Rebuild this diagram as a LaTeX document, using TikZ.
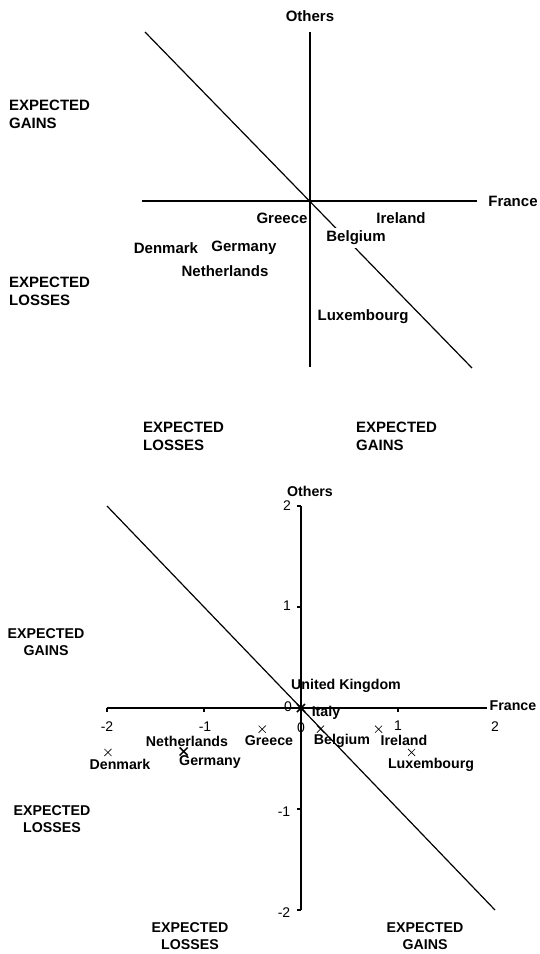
\documentclass[tikz,border=0pt]{standalone}
\usepackage{fontspec}
\setmainfont{Liberation Sans}
\usetikzlibrary{shapes.misc}
\begin{document}
\begin{tikzpicture}[x=1pt,y=-1pt,
  lbl/.style={font=\fontsize{15}{18}\selectfont\bfseries, inner sep=0pt},
  lbls/.style={font=\fontsize{14.2}{17.5}\selectfont\bfseries, inner sep=0pt},
  num/.style={font=\fontsize{14}{16}\selectfont, inner sep=0pt},
  axisline/.style={line width=1.4pt},
  diagline/.style={line width=1.2pt},
  mk/.style={cross out, draw, minimum size=6.5pt, inner sep=0pt, line width=0.6pt},
  mkb/.style={mk, line width=1.5pt},
]
\useasboundingbox (0,0) rectangle (540,954);
\fill[white] (0,0) rectangle (540,954);

% ---------------- top chart ----------------
\coordinate (tvT) at (310,32);
\coordinate (tvB) at (310,367);
\coordinate (thL) at (142,201);
\coordinate (thR) at (477,201);
\coordinate (tdA) at (145,32);
\coordinate (tdB) at (472,368);
\draw[axisline] (tvT) -- (tvB);
\draw[axisline] (thL) -- (thR);
\draw[diagline] (tdA) -- (tdB);

\node[lbl] (tOthers) at (310,16) {Others};
\node[lbl] (tFrance) at (513,201) {France};
\node[lbl, anchor=west, align=left] (tGains) at (9,114) {EXPECTED\\GAINS};
\node[lbl, anchor=west, align=left] (tLosses) at (9,291.5) {EXPECTED\\LOSSES};
\node[lbl] (tGreece) at (282,218) {Greece};
\node[lbl] (tIreland) at (401,218) {Ireland};
\node[lbl, fill=white, inner ysep=3pt, inner xsep=1pt] (tBelgium) at (356,238) {Belgium};
\node[lbl] (tDenmark) at (166,248) {Denmark};
\node[lbl] (tGermany) at (244,248) {Germany};
\node[lbl] (tNetherlands) at (225,271) {Netherlands};
\node[lbl] (tLux) at (363,317) {Luxembourg};

% ---------------- labels between charts ----------------
\node[lbl, anchor=west, align=left] (mLosses) at (143,436) {EXPECTED\\LOSSES};
\node[lbl, anchor=west, align=left] (mGains) at (356,436) {EXPECTED\\GAINS};

% ---------------- bottom chart ----------------
\begin{scope}[shift={(301,708)}, x=97pt, y=101pt]
  \coordinate (bvT) at (0,2);
  \coordinate (bvB) at (0,-2);
  \coordinate (bhL) at (-2,0);
  \coordinate (bhR) at (1.92,0);
  \coordinate (bdA) at (-2,2);
  \coordinate (bdB) at (2,-2);
  \draw[axisline] (bvT) -- (bvB);
  \draw[axisline] (bhL) -- (bhR);
  \draw[diagline] (bdA) -- (bdB);
  \foreach \t in {-2,-1,1} \draw[line width=1.2pt] (\t,0) -- ++(0,-4pt);
  \foreach \t in {-2,-1,1,2} \draw[line width=1.2pt] (0,\t) -- ++(-4pt,0);
  \node[mk] (pDen) at (-1.99,-0.44) {};
  \node[mkb] (pGer) at (-1.21,-0.43) {};
  \node[mk] (pGre) at (-0.40,-0.21) {};
  \node[mkb] (pUK) at (0,0) {};
  \node[mk] (pBel) at (0.20,-0.21) {};
  \node[mk] (pIre) at (0.80,-0.21) {};
  \node[mk] (pLux) at (1.14,-0.44) {};
\end{scope}

% tick labels
\node[num] (yTwo) at (287,506) {2};
\node[num] (yOne) at (287,606) {1};
\node[num] (yZero) at (288,707) {0};
\node[num] (yMOne) at (284,812) {-1};
\node[num] (yMTwo) at (284,913) {-2};
\node[num] (xMTwo) at (107,727) {-2};
\node[num] (xMOne) at (205,727) {-1};
\node[num] (xZero) at (301,728) {0};
\node[num] (xOne) at (398,726) {1};
\node[num] (xTwo) at (495,727) {2};

% axis titles
\node[lbls] (bOthers) at (310,491) {Others};
\node[lbls] (bFrance) at (513,706) {France};

% country labels
\node[lbls] (bUK) at (346,686) {United Kingdom};
\node[lbls] (bItaly) at (326,713) {Italy};
\node[lbls] (bNeth) at (187,741) {Netherlands};
\node[lbls] (bGer) at (210,762) {Germany};
\node[lbls] (bDen) at (120,764) {Denmark};
\node[lbls] (bGre) at (269,741) {Greece};
\node[lbls] (bBel) at (342,741) {Belgium};
\node[lbls] (bIre) at (404,740) {Ireland};
\node[lbls] (bLux) at (431,765) {Luxembourg};

% quadrant labels
\node[lbls, align=center] (bGainsL) at (46,642) {EXPECTED\\GAINS};
\node[lbls, align=center] (bLossesL) at (52,819) {EXPECTED\\LOSSES};
\node[lbls, align=center] (bLossesB) at (190,936) {EXPECTED\\LOSSES};
\node[lbls, align=center] (bGainsB) at (425,936) {EXPECTED\\GAINS};
\end{tikzpicture}
\end{document}
